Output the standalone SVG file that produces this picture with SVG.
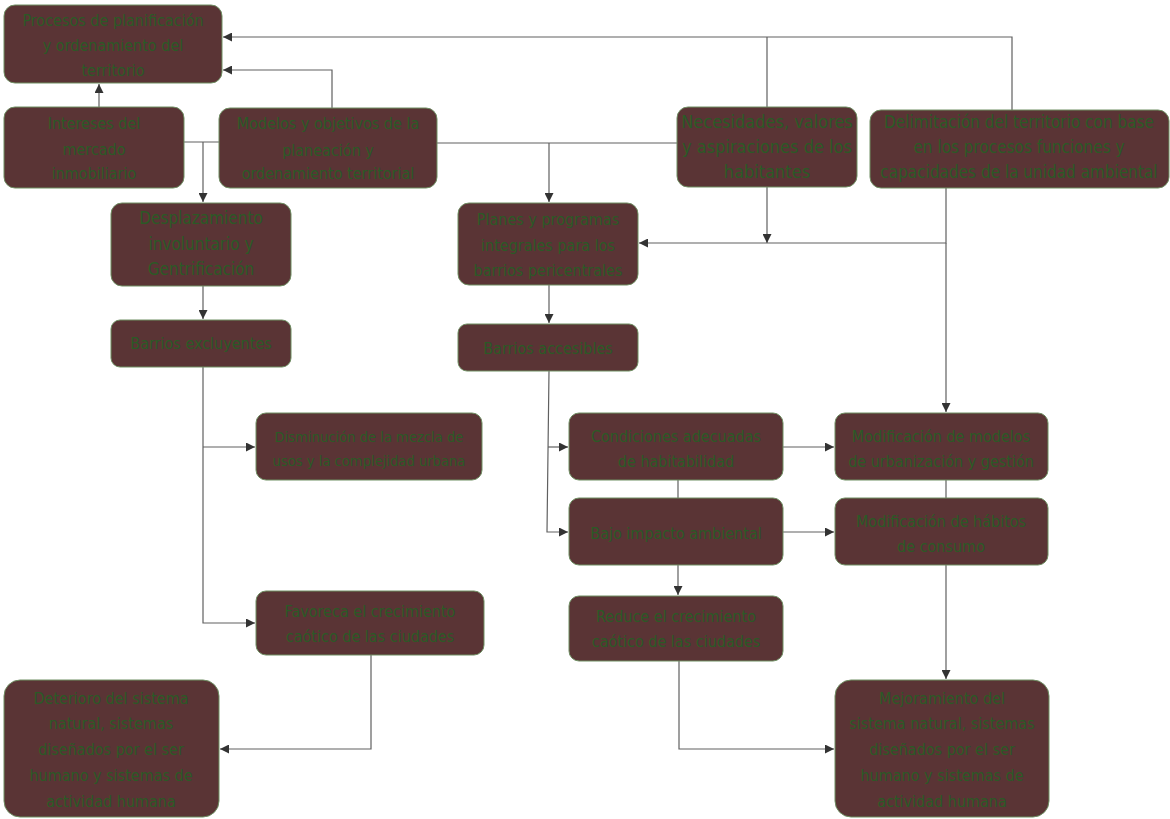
<svg xmlns="http://www.w3.org/2000/svg" width="1170" height="819" viewBox="0 0 1170 819">
<style>
.n{fill:#5a3435;stroke:#6f8f63;stroke-width:1}
.t{font-family:"DejaVu Sans Condensed","Liberation Sans",sans-serif;font-size:16px;fill:#2b5a26;text-anchor:middle;dominant-baseline:central}
.c{fill:none;stroke:#606060;stroke-width:1.2}
</style>
<defs>
<marker id="a" viewBox="0 0 10 10" refX="10" refY="5" markerWidth="9" markerHeight="9" markerUnits="userSpaceOnUse" orient="auto">
<path d="M0,0L10,5L0,10z" fill="#333"/>
</marker>
</defs>
<rect width="1170" height="819" fill="#fff"/>
<g id="connectors">
<path class="c" d="M99,107V84" marker-end="url(#a)"/>
<path class="c" d="M332,108V70H223" marker-end="url(#a)"/>
<path class="c" d="M1012,110V37H223" marker-end="url(#a)"/>
<path class="c" d="M767,107V37"/>
<path class="c" d="M184,142H219"/>
<path class="c" d="M203,142V202" marker-end="url(#a)"/>
<path class="c" d="M437,143H677"/>
<path class="c" d="M549,143V202" marker-end="url(#a)"/>
<path class="c" d="M767,187V243" marker-end="url(#a)"/>
<path class="c" d="M946,188V243H639" marker-end="url(#a)"/>
<path class="c" d="M946,243V412" marker-end="url(#a)"/>
<path class="c" d="M203,286V319" marker-end="url(#a)"/>
<path class="c" d="M203,367V623H255" marker-end="url(#a)"/>
<path class="c" d="M203,447H255" marker-end="url(#a)"/>
<path class="c" d="M549,285V323" marker-end="url(#a)"/>
<path class="c" d="M549,371L547,532H568" marker-end="url(#a)"/>
<path class="c" d="M548,447H568" marker-end="url(#a)"/>
<path class="c" d="M783,447H834" marker-end="url(#a)"/>
<path class="c" d="M783,532H834" marker-end="url(#a)"/>
<path class="c" d="M678,480V498"/>
<path class="c" d="M678,565V595" marker-end="url(#a)"/>
<path class="c" d="M946,480V498"/>
<path class="c" d="M946,565V679" marker-end="url(#a)"/>
<path class="c" d="M371,655V749H220" marker-end="url(#a)"/>
<path class="c" d="M679,661V749H834" marker-end="url(#a)"/>
</g>
<g id="n1"><rect class="n" x="4" y="5" width="218" height="78" rx="11"/><text class="t"><tspan x="113" y="20">Procesos de planificación</tspan><tspan x="113" y="45">y ordenamiento del</tspan><tspan x="113" y="70">territorio</tspan></text></g>
<g id="n2"><rect class="n" x="4" y="107" width="180" height="81" rx="11"/><text class="t"><tspan x="94" y="123">Intereses del</tspan><tspan x="94" y="149">mercado</tspan><tspan x="94" y="173">inmobiliario</tspan></text></g>
<g id="n3"><rect class="n" x="219" y="108" width="218" height="80" rx="11"/><text class="t"><tspan x="328" y="123">Modelos y objetivos de la</tspan><tspan x="328" y="150">planeación y</tspan><tspan x="328" y="173">ordenamiento territorial</tspan></text></g>
<g id="n4"><rect class="n" x="677" y="107" width="180" height="80" rx="11"/><text class="t" style="font-size:18px"><tspan x="767" y="121">Necesidades, valores</tspan><tspan x="767" y="146">y aspiraciones de los</tspan><tspan x="767" y="171">habitantes</tspan></text></g>
<g id="n5"><rect class="n" x="870" y="110" width="299" height="78" rx="11"/><text class="t" style="font-size:17px"><tspan x="1019" y="122">Delimitación del territorio con base</tspan><tspan x="1019" y="147">en los procesos funciones y</tspan><tspan x="1019" y="172">capacidades de la unidad ambiental</tspan></text></g>
<g id="n6"><rect class="n" x="111" y="203" width="180" height="83" rx="11"/><text class="t" style="font-size:17px"><tspan x="201" y="218">Desplazamiento</tspan><tspan x="201" y="244">involuntario y</tspan><tspan x="201" y="269">Gentrificación</tspan></text></g>
<g id="n7"><rect class="n" x="458" y="203" width="180" height="82" rx="11"/><text class="t"><tspan x="548" y="219">Planes y programas</tspan><tspan x="548" y="245">integrales para los</tspan><tspan x="548" y="270">barrios pericentrales</tspan></text></g>
<g id="n8"><rect class="n" x="111" y="320" width="180" height="47" rx="9"/><text class="t" x="201" y="343">Barrios excluyentes</text></g>
<g id="n9"><rect class="n" x="458" y="324" width="180" height="47" rx="9"/><text class="t" x="548" y="348">Barrios accesibles</text></g>
<g id="n10"><rect class="n" x="256" y="413" width="226" height="67" rx="10"/><text class="t" style="font-size:14.6px"><tspan x="369" y="436">Disminución de la mezcla de</tspan><tspan x="369" y="460">usos y la complejidad urbana</tspan></text></g>
<g id="n11"><rect class="n" x="569" y="413" width="214" height="67" rx="10"/><text class="t"><tspan x="676" y="436">Condiciones  adecuadas</tspan><tspan x="676" y="461">de habitabilidad</tspan></text></g>
<g id="n12"><rect class="n" x="569" y="498" width="214" height="67" rx="10"/><text class="t" x="676" y="533">Bajo impacto ambiental</text></g>
<g id="n13"><rect class="n" x="835" y="413" width="213" height="67" rx="10"/><text class="t"><tspan x="941" y="436">Modificación de modelos</tspan><tspan x="941" y="461">de urbanización y gestión</tspan></text></g>
<g id="n14"><rect class="n" x="835" y="498" width="213" height="67" rx="10"/><text class="t"><tspan x="941" y="521">Modificación de hábitos</tspan><tspan x="941" y="546">de consumo</tspan></text></g>
<g id="n15"><rect class="n" x="256" y="591" width="228" height="64" rx="10"/><text class="t"><tspan x="370" y="611">Favoreca el crecimiento</tspan><tspan x="370" y="636">caótico de las ciudades</tspan></text></g>
<g id="n16"><rect class="n" x="569" y="596" width="214" height="65" rx="10"/><text class="t"><tspan x="676" y="616">Reduce el crecimiento</tspan><tspan x="676" y="641">caótico de las ciudades</tspan></text></g>
<g id="n17"><rect class="n" x="4" y="680" width="215" height="137" rx="16"/><text class="t"><tspan x="111" y="698">Deterioro del sistema</tspan><tspan x="111" y="723">natural, sistemas</tspan><tspan x="111" y="749">diseñados por el ser</tspan><tspan x="111" y="775">humano y sistemas de</tspan><tspan x="111" y="801">actividad humana</tspan></text></g>
<g id="n18"><rect class="n" x="835" y="680" width="214" height="137" rx="16"/><text class="t"><tspan x="942" y="698">Mejoramiento del</tspan><tspan x="942" y="723">sistema natural, sistemas</tspan><tspan x="942" y="749">diseñados por el ser</tspan><tspan x="942" y="775">humano y sistemas de</tspan><tspan x="942" y="801">actividad humana</tspan></text></g>
</svg>
